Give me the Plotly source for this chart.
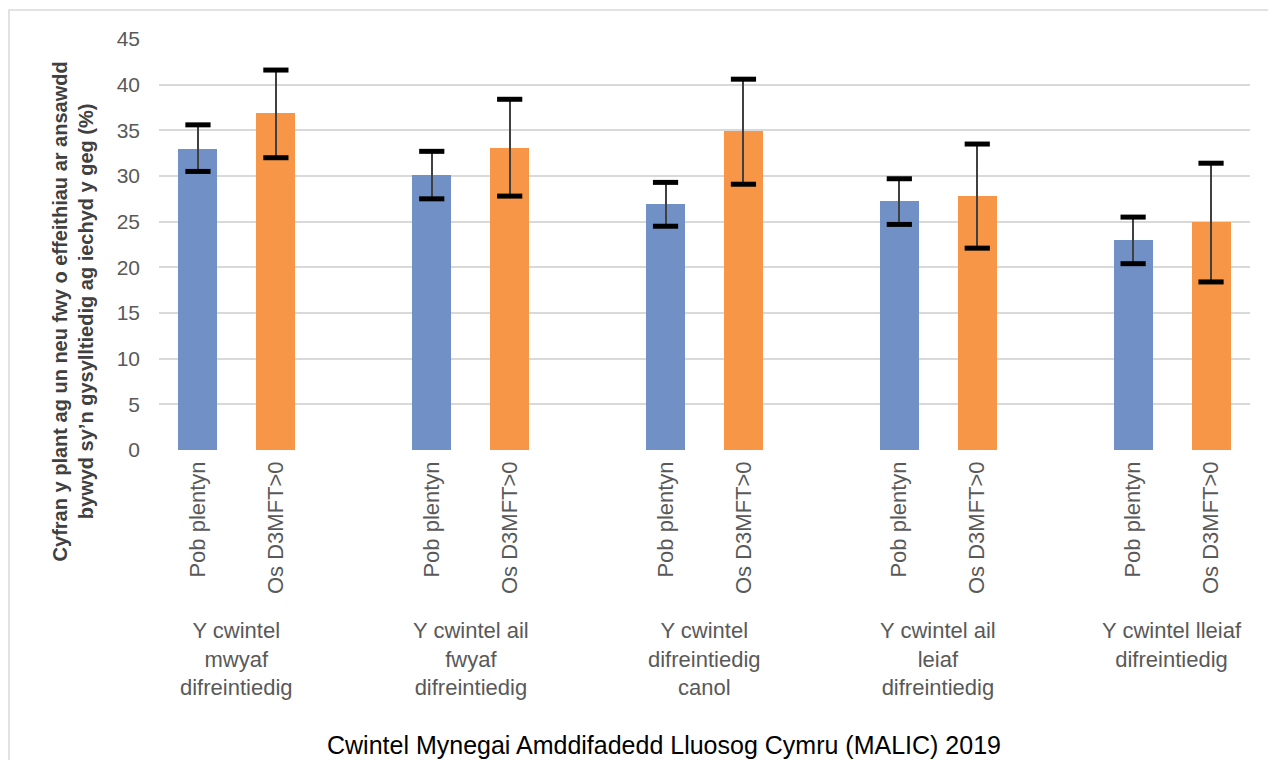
import plotly.graph_objects as go

# quintile groups (x axis outer level) and the two series
groups = [
    "Y cwintel<br>mwyaf<br>difreintiedig",
    "Y cwintel ail<br>fwyaf<br>difreintiedig",
    "Y cwintel<br>difreintiedig<br>canol",
    "Y cwintel ail<br>leiaf<br>difreintiedig",
    "Y cwintel lleiaf<br>difreintiedig",
]
series_names = ["Pob plentyn", "Os D3MFT>0"]

all_children = [33.0, 30.1, 26.9, 27.3, 23.0]
all_upper = [35.6, 32.7, 29.3, 29.7, 25.5]
all_lower = [30.5, 27.5, 24.5, 24.7, 20.4]

dmft_children = [36.9, 33.1, 34.9, 27.8, 25.0]
dmft_upper = [41.6, 38.4, 40.6, 33.5, 31.4]
dmft_lower = [32.0, 27.8, 29.1, 22.1, 18.4]

y_ticks = [0, 5, 10, 15, 20, 25, 30, 35, 40, 45]

colors = ["#7191C6", "#F79646"]
label_font = "Liberation Sans, Arial, sans-serif"

# each group takes three slots: bar, bar, gap
def slot(g, s):
    return g * 3 + s

fig = go.Figure()
data = [
    (all_children, all_upper, all_lower),
    (dmft_children, dmft_upper, dmft_lower),
]
for s, (vals, up, lo) in enumerate(data):
    xs = [slot(g, s) for g in range(len(groups))]
    fig.add_trace(go.Bar(
        x=xs, y=vals, name=series_names[s], width=0.5,
        marker=dict(color=colors[s], line=dict(width=0)),
        error_y=dict(type="data", symmetric=False,
                     array=[u - v for u, v in zip(up, vals)],
                     arrayminus=[v - l for v, l in zip(vals, lo)],
                     color="#404040", thickness=2, width=0),
    ))
    # heavy black caps on the error bars
    fig.add_trace(go.Scatter(
        x=xs + xs, y=up + lo, mode="markers", hoverinfo="skip",
        marker=dict(symbol="line-ew", size=18, color="black",
                    line=dict(color="black", width=5)),
    ))

tickvals = [slot(g, s) for g in range(len(groups)) for s in range(2)]
ticktext = [series_names[s] for g in range(len(groups)) for s in range(2)]

# the page body adds 8px on the left and top, margins allow for it
fig.update_layout(
    width=1276, height=760,
    margin=dict(l=151, r=34, t=31, b=318),
    paper_bgcolor="white", plot_bgcolor="white",
    showlegend=False, bargap=0,
    xaxis=dict(range=[-0.5, 13.5], tickvals=tickvals, ticktext=ticktext,
               tickangle=-90, showgrid=False, zeroline=False, ticks="",
               ticklabelstandoff=6,
               tickfont=dict(family=label_font, size=22, color="#595959")),
    yaxis=dict(range=[0, 45], tickvals=y_ticks, showgrid=True,
               gridcolor="#D9D9D9", gridwidth=1.5, zeroline=False, ticks="",
               ticklabelstandoff=18,
               tickfont=dict(family=label_font, size=21, color="#595959")),
)

# group labels under the rotated tick labels
for g, name in enumerate(groups):
    fig.add_annotation(
        x=slot(g, 0.5), xref="x", y=-0.404, yref="paper", text=name,
        showarrow=False, xanchor="center", yanchor="top", align="center",
        font=dict(family=label_font, size=22, color="#595959"),
    )

# axis titles
fig.add_annotation(
    x=-0.078, xref="paper", y=0.337, yref="paper", textangle=-90,
    text="<b>Cyfran y plant ag un neu fwy o effeithiau ar ansawdd<br>bywyd sy’n gysylltiedig ag iechyd y geg (%)</b>",
    showarrow=False, xanchor="center", yanchor="middle", align="center",
    font=dict(family=label_font, size=20, color="#404040"),
)
fig.add_annotation(
    x=(664 - 159) / 1091, xref="paper", y=-0.718, yref="paper",
    text="Cwintel Mynegai Amddifadedd Lluosog Cymru (MALIC) 2019",
    showarrow=False, xanchor="center", yanchor="middle",
    font=dict(family=label_font, size=25, color="black"),
)

# chart border
fig.add_shape(type="rect", xref="paper", yref="paper",
              x0=(9 - 159) / 1091, x1=(1290 - 159) / 1091,
              y0=(450 - 780) / 411, y1=(450 - 10) / 411,
              line=dict(color="#D9D9D9", width=1.5), layer="below")

fig.write_html("out.html")
